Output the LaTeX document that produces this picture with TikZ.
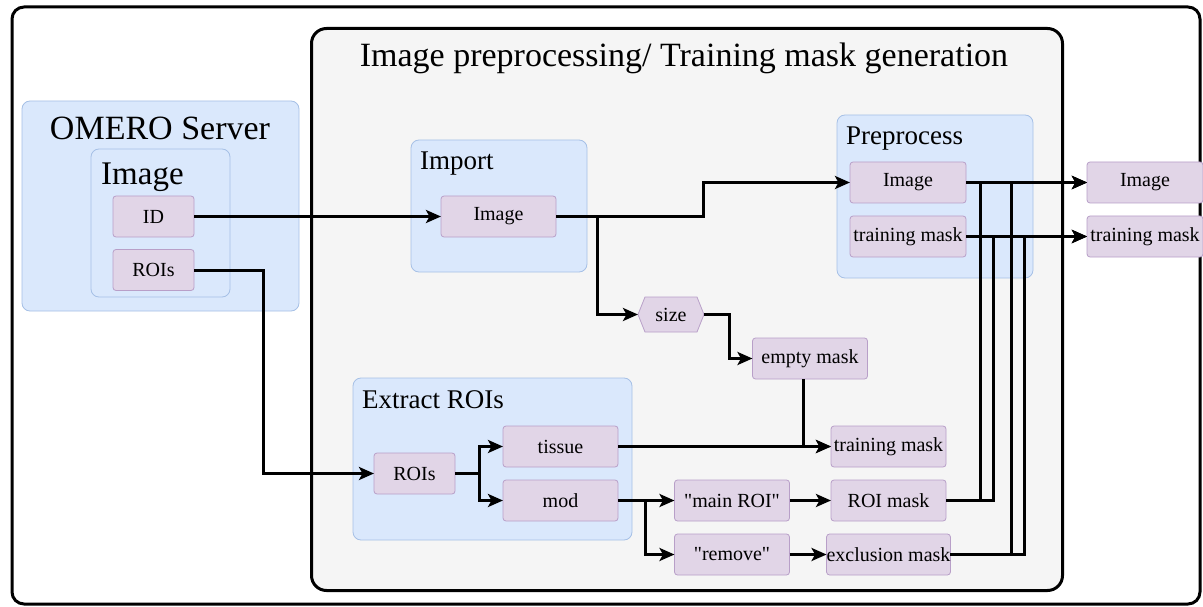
\documentclass[tikz,border=0pt]{standalone}
\usepackage{fontspec}
\setmainfont{Liberation Serif}
\newfontfamily\diagfont{Liberation Serif}
\usetikzlibrary{arrows.meta}
\definecolor{boxfill}{HTML}{E1D5E7}
\definecolor{boxline}{HTML}{B89FC8}
\definecolor{grpfill}{HTML}{DAE8FC}
\definecolor{grpline}{HTML}{A6C0E6}
\definecolor{panel}{HTML}{F5F5F5}
\newcommand{\dq}{\char34\relax}
\begin{document}
\begin{tikzpicture}[x=1pt,y=-1pt,
  proc/.style={rectangle, rounded corners=3pt, fill=boxfill, draw=boxline,
    line width=0.8pt, minimum width=115pt, minimum height=41pt, inner sep=0pt,
    outer sep=0pt, font=\diagfont\fontsize{20}{22}\selectfont},
  smallproc/.style={proc, minimum width=81pt},
  grp/.style={rectangle, rounded corners=8pt, fill=grpfill, draw=grpline,
    line width=0.8pt, inner sep=0pt, outer sep=0pt, anchor=north west},
  grplabel/.style={anchor=base west, inner sep=0pt, font=\diagfont\fontsize{27}{30}\selectfont},
  conn/.style={line width=3pt, -{Stealth[length=15pt,width=13pt,inset=3.5pt]}},
]
\useasboundingbox (0,0) rectangle (1203,607);

% outer frame and processing panel
\draw[line width=3pt, rounded corners=12pt, fill=white] (12,7) rectangle (1200,604);
\node[rectangle, rounded corners=15pt, fill=panel, draw=black, line width=3pt,
  minimum width=751pt, minimum height=562pt, anchor=north west, inner sep=0pt]
  (panelbox) at (310,27) {};
\node[anchor=base, inner sep=0pt, font=\diagfont\fontsize{34}{36}\selectfont] (title)
  at (684,67) {Image preprocessing/ Training mask generation};

% OMERO server
\node[grp, minimum width=277pt, minimum height=210pt] (omero) at (22,101) {};
\node[anchor=base, inner sep=0pt, font=\diagfont\fontsize{34}{36}\selectfont] (omerolbl)
  at (160,140) {OMERO Server};
\node[grp, minimum width=139pt, minimum height=148pt] (imggrp) at (91,149) {};
\node[anchor=base west, inner sep=0pt, font=\diagfont\fontsize{33}{36}\selectfont] (imglbl)
  at (101,185) {Image};
\node[smallproc] (id) at (153.5,216.5) {ID};
\node[smallproc] (rois) at (153.5,270) {ROIs};

% import
\node[grp, minimum width=176pt, minimum height=132pt] (import) at (411,140) {};
\node[grplabel] (importlbl) at (420,170) {Import};
\node[proc] (impimg) at (498.5,216.5) {Image};

% preprocess
\node[grp, minimum width=196pt, minimum height=163pt] (prep) at (837,115) {};
\node[grplabel] (preplbl) at (846,145) {Preprocess};
\node[proc, minimum width=116pt] (preimg) at (908,182.5) {Image};
\node[proc, minimum width=116pt] (pretm) at (908,236.5) {training mask};

% outputs
\node[proc, minimum width=116pt] (outimg) at (1145,182.5) {Image};
\node[proc, minimum width=116pt] (outtm) at (1145,236.5) {training mask};

% size and empty mask
\fill[boxfill, draw=boxline, line width=0.8pt]
  (638,314.5) -- (645,297) -- (697,297) -- (704,314.5) -- (697,332) -- (645,332) -- cycle;
\node[rectangle, minimum width=66pt, minimum height=35pt, inner sep=0pt, outer sep=0pt,
  font=\diagfont\fontsize{20}{22}\selectfont] (size) at (671,314.5) {size};
\node[proc] (empty) at (810,358.5) {empty mask};

% extract ROIs
\node[grp, minimum width=279pt, minimum height=162pt] (extract) at (353,378) {};
\node[grplabel] (extractlbl) at (362,408) {Extract ROIs};
\node[smallproc] (erois) at (414.5,473.5) {ROIs};
\node[proc] (tissue) at (560.5,446.5) {tissue};
\node[proc] (mod) at (560.5,500.5) {mod};

% masks
\node[proc] (mainroi) at (732,500.5) {\dq main ROI\dq};
\node[proc] (remove) at (732,554.5) {\dq remove\dq};
\node[proc] (tm) at (888.5,446.5) {training mask};
\node[proc] (roimask) at (888.5,500.5) {ROI mask};
\node[proc] (exclmask) at (888.5,554.5) {exclusion mask};

% connectors
\draw[conn] (id.east) -- (impimg.west);
\draw[conn] (rois.east) -- ++(69,0) |- (erois.west);
\draw[conn] (impimg.east) -- ++(147,0) |- (preimg.west);
\draw[conn] (impimg.east) -- ++(41,0) |- (size.west);
\draw[conn] (size.east) -- ++(25,0) |- (empty.west);
\draw[conn] ([xshift=-7pt]empty.south) |- (tm.west);
\draw[conn] (tissue.east) -- (tm.west);
\draw[conn] (erois.east) -- ++(24,0) |- (tissue.west);
\draw[conn] (erois.east) -- ++(24,0) |- (mod.west);
\draw[conn] (mod.east) -- ++(27,0) |- (mainroi.west);
\draw[conn] (mod.east) -- ++(27,0) |- (remove.west);
\draw[conn] (mainroi.east) -- (roimask.west);
\draw[conn] (remove.east) -- (exclmask.west);
\draw[conn] (roimask.east) -- ++(34,0) |- (outimg.west);
\draw[conn] (roimask.east) -- ++(47,0) |- (outtm.west);
\draw[conn] (exclmask.east) -- ++(61,0) |- (outimg.west);
\draw[conn] (exclmask.east) -- ++(74,0) |- (outtm.west);
\draw[conn] (preimg.east) -- (outimg.west);
\draw[conn] (pretm.east) -- (outtm.west);
\end{tikzpicture}
\end{document}
